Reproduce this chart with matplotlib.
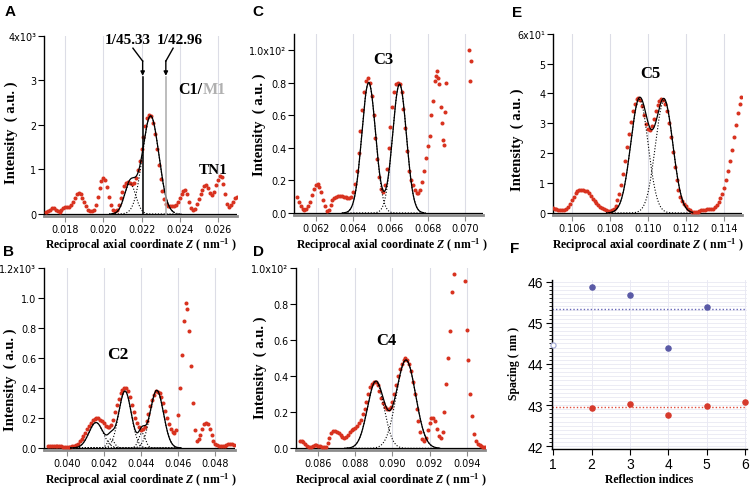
import numpy as np
import matplotlib
matplotlib.use("Agg")
import matplotlib.pyplot as plt
from matplotlib.ticker import MultipleLocator

# ------------------------------------------------------------------ data
# Panel A (intensity in units of 10^3), sampled every 0.0001 nm^-1 from 0.0170
a_z_start, a_z_step = 0.0170, 0.0001
a_intensity = [0.05, 0.06, 0.10, 0.13, 0.14, 0.10, 0.06, 0.05, 0.09, 0.14,
               0.15, 0.15, 0.16, 0.20, 0.28, 0.37, 0.44, 0.47, 0.44, 0.36,
               0.26, 0.17, 0.10, 0.07, 0.06, 0.10, 0.20, 0.38, 0.58, 0.74,
               0.80, 0.76, 0.60, 0.38, 0.20, 0.09, 0.06, 0.10, 0.20, 0.35,
               0.50, 0.62, 0.70, 0.72, 0.70, 0.68, 0.70, 0.80, 0.98, 1.20,
               1.45, 1.72, 1.98, 2.15, 2.22, 2.20, 2.05, 1.80, 1.45, 1.10,
               0.78, 0.52, 0.33, 0.22, 0.19, 0.18, 0.18, 0.19, 0.20, 0.26,
               0.36, 0.45, 0.52, 0.53, 0.45, 0.28, 0.13, 0.08, 0.12, 0.22,
               0.33, 0.44, 0.54, 0.63, 0.65, 0.58, 0.48, 0.43, 0.50, 0.64,
               0.77, 0.86, 0.83, 0.68, 0.45, 0.22, 0.15, 0.20, 0.28, 0.35,
               0.39]
a_fit_center = [0.02140, 0.02248]
a_fit_amp = [0.68, 2.20]
a_fit_sigma = [0.00030, 0.00043]
a_sum_range = (0.0204, 0.0237)
a_comp_range = (0.0203, 0.0241)
a_xticks = [0.018, 0.020, 0.022, 0.024, 0.026]
a_yticks = [0, 1, 2, 3, 4]
a_ytick_labels = ["0", "1", "2", "3", "4x10³"]
spacing_c1 = 45.33
spacing_m1 = 42.96
marker_line_top = 3.07

# Panel B (units of 10^3)
b_z_start, b_z_step = 0.0390, 0.0001
b_intensity = [0.010, 0.010, 0.010, 0.010, 0.010, 0.010, 0.010, 0.010, 0.008, 0.006,
               0.005, 0.005, 0.006, 0.010, 0.015, 0.020, 0.030, 0.045, 0.060, 0.080,
               0.100, 0.125, 0.150, 0.170, 0.185, 0.195, 0.200, 0.200, 0.190, 0.180,
               0.165, 0.150, 0.140, 0.140, 0.155, 0.190, 0.240, 0.290, 0.330, 0.365,
               0.390, 0.400, 0.400, 0.380, 0.340, 0.290, 0.240, 0.200, 0.165, 0.140,
               0.120, 0.125, 0.140, 0.180, 0.230, 0.280, 0.320, 0.355, 0.380, 0.375,
               0.365, 0.340, 0.300, 0.250, 0.200, 0.160, 0.130, 0.110, 0.100, 0.120,
               0.220, 0.400, 0.620, 0.850, 0.970, 0.930, 0.780, 0.550, 0.300, 0.120,
               0.050, 0.060, 0.090, 0.130, 0.160, 0.170, 0.160, 0.130, 0.090, 0.050,
               0.030, 0.020, 0.015, 0.015, 0.015, 0.015, 0.020, 0.025, 0.025, 0.025,
               0.020]
b_fit_center = [0.04158, 0.04238, 0.04314, 0.04405, 0.04485]
b_fit_amp = [0.17, 0.06, 0.38, 0.10, 0.385]
b_fit_sigma = [0.00038, 0.00018, 0.00034, 0.00018, 0.00036]
b_sum_range = (0.0403, 0.0461)
b_comp_range = (0.0402, 0.0462)
b_xticks = [0.040, 0.042, 0.044, 0.046, 0.048]
b_yticks = [0.0, 0.2, 0.4, 0.6, 0.8, 1.0, 1.2]
b_ytick_labels = ["0.0", "0.2", "0.4", "0.6", "0.8", "1.0", "1.2x10³"]

# Panel C (units of 10^2)
c_z_start, c_z_step = 0.0610, 0.0001
c_intensity = [0.10, 0.07, 0.04, 0.025, 0.02, 0.025, 0.04, 0.07, 0.11, 0.15,
               0.17, 0.18, 0.16, 0.13, 0.08, 0.04, 0.015, 0.02, 0.05, 0.08,
               0.095, 0.10, 0.105, 0.105, 0.105, 0.10, 0.10, 0.095, 0.09, 0.10,
               0.13, 0.18, 0.26, 0.37, 0.50, 0.63, 0.74, 0.81, 0.83, 0.80,
               0.72, 0.60, 0.46, 0.33, 0.22, 0.15, 0.13, 0.17, 0.27, 0.40,
               0.53, 0.65, 0.74, 0.79, 0.80, 0.79, 0.74, 0.64, 0.52, 0.38,
               0.26, 0.20, 0.17, 0.14, 0.12, 0.12, 0.14, 0.19, 0.26, 0.34,
               0.41, 0.47, 0.60, 0.69, 0.81, 0.87, 0.79, 0.65, 0.45, 0.62,
               0.80]
c_extra_z = [0.06845, 0.06855, 0.06875, 0.06885, 0.07022, 0.07030, 0.07026]
c_extra_intensity = [0.84, 0.83, 0.55, 0.42, 1.00, 0.93, 0.81]
c_fit_center = [0.06484, 0.06649]
c_fit_amp = [0.80, 0.79]
c_fit_sigma = [0.00037, 0.00037]
c_sum_range = (0.0635, 0.0678)
c_comp_range = (0.0634, 0.0679)
c_xticks = [0.062, 0.064, 0.066, 0.068, 0.070]
c_yticks = [0.0, 0.2, 0.4, 0.6, 0.8, 1.0]
c_ytick_labels = ["0.0", "0.2", "0.4", "0.6", "0.8", "1.0x10²"]

# Panel D (units of 10^2)
d_z_start, d_z_step = 0.0850, 0.0001
d_intensity = [0.040, 0.040, 0.035, 0.025, 0.015, 0.010, 0.010, 0.015, 0.020, 0.020,
               0.015, 0.015, 0.010, 0.008, 0.005, 0.030, 0.060, 0.085, 0.095, 0.095,
               0.090, 0.085, 0.075, 0.065, 0.060, 0.065, 0.075, 0.090, 0.100, 0.110,
               0.115, 0.125, 0.140, 0.160, 0.190, 0.220, 0.260, 0.300, 0.340, 0.360,
               0.370, 0.370, 0.350, 0.320, 0.280, 0.250, 0.230, 0.220, 0.220, 0.230,
               0.260, 0.300, 0.350, 0.400, 0.440, 0.470, 0.490, 0.500, 0.490, 0.470,
               0.430, 0.370, 0.300, 0.220, 0.150, 0.090, 0.050, 0.040, 0.060, 0.100,
               0.140, 0.170, 0.170, 0.150, 0.110, 0.070, 0.060, 0.090, 0.200, 0.360,
               0.500, 0.650, 0.870, 0.970, 1.150, 1.300, 1.400, 1.350, 1.150, 0.930,
               0.660, 0.490, 0.300, 0.180, 0.080, 0.040, 0.025, 0.020, 0.015, 0.010,
               0.010]
d_fit_center = [0.08910, 0.09073]
d_fit_amp = [0.37, 0.49]
d_fit_sigma = [0.00045, 0.00052]
d_sum_range = (0.0875, 0.0925)
d_comp_range = (0.0874, 0.0926)
d_xticks = [0.086, 0.088, 0.090, 0.092, 0.094]
d_yticks = [0.0, 0.2, 0.4, 0.6, 0.8, 1.0]
d_ytick_labels = ["0.0", "0.2", "0.4", "0.6", "0.8", "1.0x10²"]

# Panel E (units of 10^1)
e_z_start, e_z_step = 0.1050, 0.0001
e_intensity = [0.17, 0.15, 0.12, 0.10, 0.10, 0.10, 0.11, 0.14, 0.20, 0.30,
               0.42, 0.55, 0.66, 0.74, 0.78, 0.78, 0.77, 0.75, 0.72, 0.66,
               0.57, 0.48, 0.40, 0.33, 0.27, 0.21, 0.16, 0.12, 0.09, 0.07,
               0.07, 0.10, 0.15, 0.25, 0.42, 0.65, 0.95, 1.32, 1.75, 2.20,
               2.65, 3.05, 3.40, 3.65, 3.80, 3.85, 3.78, 3.58, 3.28, 2.98,
               2.80, 2.78, 2.90, 3.15, 3.42, 3.63, 3.75, 3.80, 3.78, 3.65,
               3.40, 3.02, 2.55, 2.05, 1.55, 1.10, 0.78, 0.55, 0.40, 0.30,
               0.22, 0.15, 0.09, 0.05, 0.04, 0.04, 0.05, 0.07, 0.09, 0.10,
               0.10, 0.12, 0.12, 0.12, 0.15, 0.20, 0.28, 0.38, 0.50, 0.65,
               0.85, 1.10, 1.40, 1.75, 2.12, 2.55, 2.95, 3.35, 3.65, 3.87]
e_fit_center = [0.10955, 0.11085]
e_fit_amp = [3.80, 3.76]
e_fit_sigma = [0.00046, 0.00046]
e_sum_range = (0.1079, 0.1123)
e_comp_range = (0.1078, 0.1124)
e_xticks = [0.106, 0.108, 0.110, 0.112, 0.114]
e_yticks = [0, 1, 2, 3, 4, 5, 6]
e_ytick_labels = ["0", "1", "2", "3", "4", "5", "6x10¹"]

# Panel F
f_c_index = [2, 3, 4, 5]
f_c_spacing = [45.88, 45.68, 44.40, 45.39]
f_c_error = [0.06, 0.0, 0.0, 0.0]
f_open_index = [1]
f_open_spacing = [44.47]
f_m_index = [2, 3, 4, 5, 6]
f_m_spacing = [42.92, 43.02, 42.76, 42.99, 43.07]
f_c_mean = 45.33
f_m_mean = 42.96
f_xticks = [1, 2, 3, 4, 5, 6]
f_yticks = [42, 43, 44, 45, 46]

# ------------------------------------------------------------------ style
W, H, DPI = 752, 489, 100
RED = "#d8321f"
plt.rcParams["mathtext.fontset"] = "custom"
plt.rcParams["mathtext.rm"] = "Liberation Serif:bold"
plt.rcParams["mathtext.bf"] = "Liberation Serif:bold"
plt.rcParams["mathtext.it"] = "Liberation Serif:italic:bold"

XLABEL = r"Reciprocal axial coordinate $\mathit{Z}$ ( nm$^{\mathrm{-1}}$ )"
YLABEL = "Intensity  ( a.u. )"
XLABEL_FONT = dict(family="Liberation Serif", weight="bold", size=8.5)
YLABEL_FONT = dict(family="Liberation Serif", weight="bold", size=10.5)
TICK_SIZE = 6.9

fig = plt.figure(figsize=(W / DPI, H / DPI), dpi=DPI)


def add_ax(l, t, r, b):
    ax = fig.add_axes([l / W, 1 - b / H, (r - l) / W, (b - t) / H])
    ax._px = (l, t, r, b)
    return ax


def to_axes(ax, px, py):
    l, t, r, b = ax._px
    return (px - l) / (r - l), (b - py) / (b - t)


def gauss(z, c, a, s):
    return a * np.exp(-0.5 * ((z - c) / s) ** 2)


def peak_panel(box, xlim, ylim, z0, dz, vals, centers, amps, sigmas,
               sum_range, comp_range, xticks, yticks, ylabels,
               xlabel_pos, ylabel_pos):
    ax = add_ax(*box)
    ax.set_xlim(*xlim)
    ax.set_ylim(*ylim)
    z = z0 + dz * np.arange(len(vals))
    ax.plot(z, vals, "o", ms=2.9, color=RED, mew=0, zorder=3)
    zc = np.linspace(comp_range[0], comp_range[1], 500)
    for c, a, s in zip(centers, amps, sigmas):
        ax.plot(zc, gauss(zc, c, a, s), color="k", lw=0.8,
                ls=(0, (1, 1.6)), zorder=4)
    zs = np.linspace(sum_range[0], sum_range[1], 500)
    total = sum(gauss(zs, c, a, s) for c, a, s in zip(centers, amps, sigmas))
    ax.plot(zs, total, color="k", lw=0.9, zorder=4)
    ax.axhline(0, color="k", lw=0.9, zorder=2)
    ax.set_xticks(xticks)
    ax.set_xticklabels([f"{t:.3f}" for t in xticks])
    ax.set_yticks(yticks)
    ax.set_yticklabels(ylabels)
    ax.tick_params(axis="x", direction="out", length=4, width=0.8,
                   color="#8c8c8c", labelsize=TICK_SIZE, pad=2)
    ax.tick_params(axis="y", direction="out", length=4, width=0.8,
                   color="k", labelsize=TICK_SIZE, pad=1.5)
    ax.grid(axis="x", color="#dcdde6", lw=0.8)
    ax.set_axisbelow(True)
    for sp in ("top", "right"):
        ax.spines[sp].set_visible(False)
    ax.spines["left"].set_linewidth(1.0)
    ax.spines["bottom"].set_color("#8c8c8c")
    ax.spines["bottom"].set_linewidth(2.0)
    ax.set_xlabel(XLABEL, **XLABEL_FONT)
    ax.xaxis.set_label_coords(*to_axes(ax, *xlabel_pos))
    ax.xaxis.label.set_verticalalignment("center")
    ax.set_ylabel(YLABEL, **YLABEL_FONT)
    ax.yaxis.set_label_coords(*to_axes(ax, *ylabel_pos))
    ax.yaxis.label.set_verticalalignment("center")
    return ax


title_font = dict(family="Liberation Serif", weight="bold")

# ---------------- A
axA = peak_panel((44, 36.7, 237, 217), (0.016882, 0.027013), (-0.045, 4.0),
                 a_z_start, a_z_step, a_intensity, a_fit_center, a_fit_amp,
                 a_fit_sigma, a_sum_range, a_comp_range, a_xticks, a_yticks,
                 a_ytick_labels, (141, 245.5), (11, 133))
z_c1 = 1 / spacing_c1
z_m1 = 1 / spacing_m1
axA.plot([z_c1, z_c1], [0, marker_line_top], color="k", lw=1.1, zorder=5)
axA.plot([z_m1, z_m1], [0, marker_line_top], color="#ababab", lw=1.1, zorder=5)
axA.text(0.02130, 3.92, f"1/{spacing_c1:.2f}", ha="center", va="center",
         fontsize=11, **title_font)
axA.text(0.02403, 3.92, f"1/{spacing_m1:.2f}", ha="center", va="center",
         fontsize=11, **title_font)
axA.plot([0.02155, z_c1], [3.72, 3.43], color="k", lw=1.0, clip_on=False)
axA.plot([0.02366, z_m1], [3.72, 3.43], color="k", lw=1.0, clip_on=False)
for zl in (z_c1, z_m1):
    axA.annotate("", xy=(zl, 3.10), xytext=(zl, 3.44),
                 arrowprops=dict(arrowstyle="-|>", color="k", lw=1.0,
                                 mutation_scale=6, shrinkA=0, shrinkB=0))
tC1 = axA.text(0.02395, 2.80, "C1/", ha="left", va="center", fontsize=11.5,
               **title_font)
axA.annotate("M1", xy=(1, 0), xycoords=tC1, ha="left", va="bottom",
             fontsize=11.5, color="#b0b0b0", **title_font)
axA.text(0.02576, 1.0, "TN1", ha="center", va="center", fontsize=11,
         **title_font)

# ---------------- B
axB = peak_panel((44, 269.3, 235, 451), (0.03878, 0.04906), (-0.0134, 1.2),
                 b_z_start, b_z_step, b_intensity, b_fit_center, b_fit_amp,
                 b_fit_sigma, b_sum_range, b_comp_range, b_xticks, b_yticks,
                 b_ytick_labels, (141, 480.5), (10, 380))
axB.text(0.04275, 0.63, "C2", ha="center", va="center", fontsize=12.5,
         **title_font)

# ---------------- C
axC = peak_panel((294, 35, 483, 216), (0.06084, 0.07096), (-0.0123, 1.098),
                 c_z_start, c_z_step, c_intensity, c_fit_center, c_fit_amp,
                 c_fit_sigma, c_sum_range, c_comp_range, c_xticks, c_yticks,
                 c_ytick_labels, (392, 245.5), (259, 125))
axC.plot(c_extra_z, c_extra_intensity, "o", ms=2.9, color=RED, mew=0, zorder=3)
axC.text(0.06565, 0.945, "C3", ha="center", va="center", fontsize=12,
         **title_font)

# ---------------- D
axD = peak_panel((296, 269.3, 485, 451), (0.0848, 0.09499), (-0.0094, 1.0),
                 d_z_start, d_z_step, d_intensity, d_fit_center, d_fit_amp,
                 d_fit_sigma, d_sum_range, d_comp_range, d_xticks, d_yticks,
                 d_ytick_labels, (391, 480.5), (260, 368))
axD.text(0.08965, 0.60, "C4", ha="center", va="center", fontsize=12,
         **title_font)

# ---------------- E
axE = peak_panel((553, 34.7, 742, 216), (0.10502, 0.11493), (-0.067, 6.0),
                 e_z_start, e_z_step, e_intensity, e_fit_center, e_fit_amp,
                 e_fit_sigma, e_sum_range, e_comp_range, e_xticks, e_yticks,
                 e_ytick_labels, (648, 245.5), (517, 140))
axE.text(0.11015, 4.7, "C5", ha="center", va="center", fontsize=12,
         **title_font)

# ---------------- F
axF = add_ax(551.7, 281, 747, 450)
axF.set_xlim(0.958, 6.055)
axF.set_ylim(41.934, 46.04)
axF.axhline(f_c_mean, color="#6868b8", lw=1.0, ls=(0, (1, 1.5)), zorder=2)
axF.axhline(f_m_mean, color="#e04a3a", lw=1.0, ls=(0, (1, 1.5)), zorder=2)
axF.errorbar(f_c_index, f_c_spacing, yerr=f_c_error, fmt="o", ms=3.7,
             color="#5a5aa6", ecolor="#9a9ac8", elinewidth=0.8, capsize=0,
             zorder=4)
axF.plot(f_open_index, f_open_spacing, "o", ms=3.7, mfc="white",
         mec="#a8aed8", mew=0.9, zorder=4, clip_on=False)
axF.plot(f_m_index, f_m_spacing, "o", ms=3.7, color="#d63a2c", zorder=4,
         clip_on=False)
axF.set_xticks(f_xticks)
axF.set_yticks(f_yticks)
axF.yaxis.set_minor_locator(MultipleLocator(0.1))
axF.grid(which="both", axis="y", color="#e9e9f3", lw=0.6)
axF.grid(which="major", axis="x", color="#e6e6f2", lw=0.6)
axF.set_axisbelow(True)
for sp in ("top", "right"):
    axF.spines[sp].set_visible(False)
axF.spines["left"].set_linewidth(1.0)
axF.spines["bottom"].set_linewidth(1.0)
axF.tick_params(which="major", direction="out", length=4, width=0.8,
                labelsize=10, pad=2)
axF.tick_params(which="minor", axis="y", direction="out", length=2, width=0.6)
for lab in axF.get_xticklabels() + axF.get_yticklabels():
    lab.set_fontfamily("Liberation Sans")
axF.set_xlabel("Reflection indices", **XLABEL_FONT)
axF.xaxis.set_label_coords(*to_axes(axF, 649, 480.5))
axF.xaxis.label.set_verticalalignment("center")
axF.set_ylabel("Spacing ( nm )", **XLABEL_FONT)
axF.yaxis.set_label_coords(*to_axes(axF, 514, 363))
axF.yaxis.label.set_verticalalignment("center")

# ---------------- panel letters
for letter, (px, py) in {"A": (10, 12), "B": (9, 252), "C": (258, 12),
                         "D": (259, 252), "E": (517, 13), "F": (515, 249)}.items():
    fig.text(px / W, 1 - py / H, letter, ha="center", va="center",
             fontsize=11, fontweight="bold", family="Liberation Sans")

fig.savefig("out.png", dpi=DPI)
